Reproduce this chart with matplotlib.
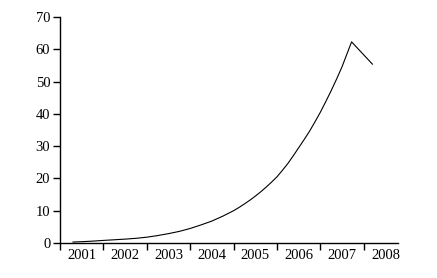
import matplotlib
matplotlib.use("Agg")
import matplotlib.pyplot as plt
import numpy as np

years = ["2001", "2002", "2003", "2004", "2005", "2006", "2007", "2008"]
# time position in years since start of 2001
t = [0.3, 0.5, 0.75, 1.0, 1.25, 1.5, 1.75, 2.0, 2.25, 2.5, 2.75, 3.0, 3.25, 3.5,
     3.75, 4.0, 4.125, 4.25, 4.375, 4.5, 4.625, 4.75, 4.875, 5.0, 5.125, 5.25,
     5.375, 5.5, 5.625, 5.75, 5.875, 6.0, 6.125, 6.25, 6.375, 6.5, 6.72, 7.2]
values = [0.30, 0.40, 0.58, 0.80, 1.0, 1.2, 1.45, 1.8, 2.3, 2.9, 3.6, 4.5, 5.6, 6.8,
          8.3, 10.0, 11.0, 12.1, 13.25, 14.5, 15.85, 17.3, 18.85, 20.5, 22.5, 24.6,
          27.0, 29.5, 32.0, 34.6, 37.5, 40.5, 43.8, 47.2, 50.8, 54.6, 62.3, 55.4]

plt.rcParams['font.family'] = ['Liberation Serif', 'DejaVu Serif']

fig = plt.figure(figsize=(4.37, 2.78), dpi=100)
ax = fig.add_axes([0.1373, 0.1259, 0.7735, 0.8129])
ax.plot(t, values, color='black', linewidth=0.8)

ax.set_xlim(0, 7.79)
ax.set_ylim(0, 70)
ax.set_yticks(range(0, 71, 10))
ax.set_xticks(np.arange(0, 8))
ax.set_xticklabels([])
ax.set_xticks(np.arange(len(years)) + 0.5, minor=True)
ax.set_xticklabels(years, minor=True)
ax.tick_params(axis='x', which='major', length=5, width=1, direction='out')
ax.tick_params(axis='x', which='minor', length=0, pad=4, labelsize=10.5)
ax.tick_params(axis='y', length=5, width=1, direction='out', pad=2, labelsize=10.5)
for s in ['top', 'right']:
    ax.spines[s].set_visible(False)
for s in ['left', 'bottom']:
    ax.spines[s].set_linewidth(1)

fig.savefig("out.png", dpi=100)
